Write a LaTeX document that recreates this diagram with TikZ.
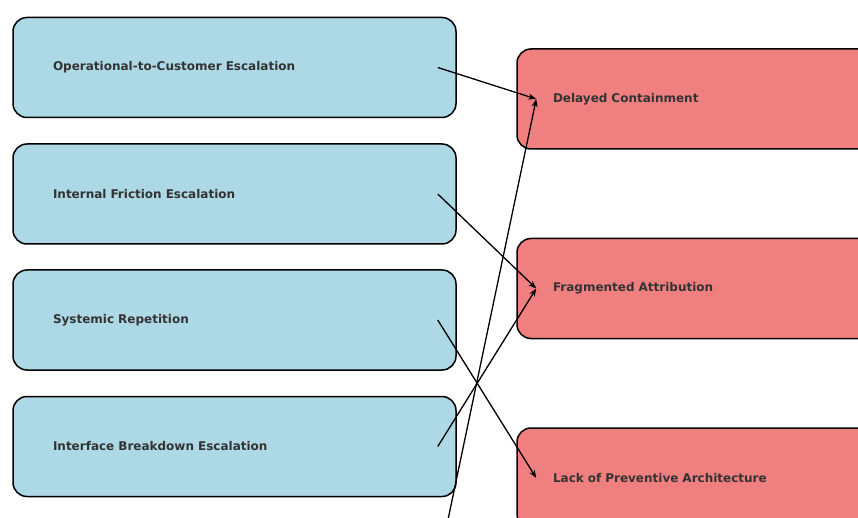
\documentclass[tikz,border=0pt]{standalone}
\usepackage{fontspec}
\setmainfont{DejaVu Sans}
\usetikzlibrary{arrows.meta, positioning}
\definecolor{causeblue}{HTML}{ADD8E6}
\definecolor{effectred}{HTML}{F08080}
\definecolor{txtgray}{HTML}{333333}

\begin{document}
\begin{tikzpicture}[
  x=1pt, y=-1pt,
  >={Stealth[length=8pt, width=6pt]},
  card/.style={
    draw=black, line width=1.5pt, fill=#1, rounded corners=14pt,
    minimum height=100pt, text width=363pt, align=left,
    font=\fontsize{12}{14}\selectfont\bfseries, text=txtgray},
  cause/.style={card=causeblue, minimum width=443pt, inner xsep=40pt},
  effect/.style={card=effectred, minimum width=443pt, inner xsep=36pt, text width=371pt},
  link/.style={->, line width=1.3pt, black},
]

% Canvas (858 x 518)
\useasboundingbox (0,0) rectangle (858,518);
\clip (0,0) rectangle (858,518);

% === Left column: escalation patterns ===
\node[cause] (opcust) at (234.5,67.5) {Operational-to-Customer Escalation};
\node[cause] (friction) at (234.5,194) {Internal Friction Escalation};
\node[cause] (repeat) at (234.5,320) {Systemic Repetition};
\node[cause] (iface) at (234.5,446.5) {Interface Breakdown Escalation};
\coordinate (hidden) at (456,572);

% === Right column: consequences ===
\node[effect] (delay) at (738.5,99) {Delayed Containment};
\node[effect] (frag) at (738.5,288.5) {Fragmented Attribution};
\node[effect] (prevent) at (738.5,478) {Lack of Preventive Architecture};

% === Links ===
\draw[link] ([xshift=-19pt]opcust.east) -- ([xshift=20pt]delay.west);
\draw[link] ([xshift=-19pt]friction.east) -- ([xshift=20pt]frag.west);
\draw[link] ([xshift=-19pt]repeat.east) -- ([xshift=20pt]prevent.west);
\draw[link] ([xshift=-19pt]iface.east) -- ([xshift=20pt]frag.west);
\draw[link] ([xshift=-19pt]hidden) -- ([xshift=20pt]delay.west);

\end{tikzpicture}
\end{document}
